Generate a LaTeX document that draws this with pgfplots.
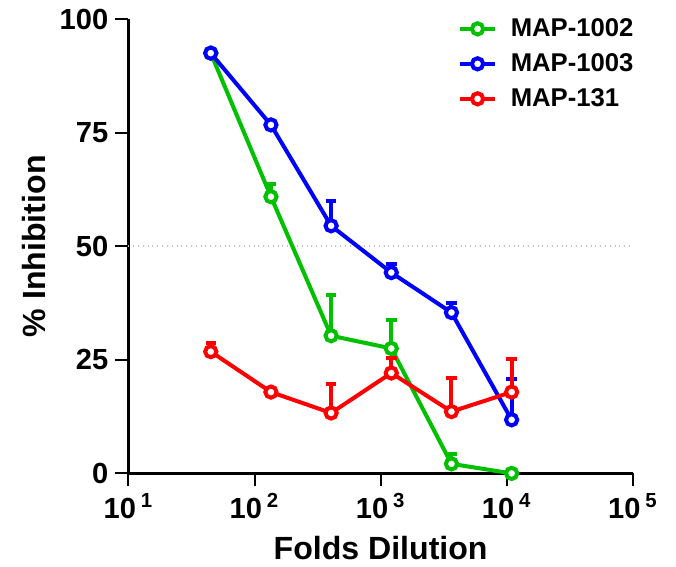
\documentclass[border=0pt]{standalone}
\usepackage{fontspec}
\setmainfont{Liberation Sans}
\usepackage{pgfplots}
\pgfplotsset{compat=1.18}
\definecolor{mapgreen}{RGB}{0,192,0}
\definecolor{mapblue}{RGB}{0,0,255}
\definecolor{mapred}{RGB}{255,0,0}
\pgfplotsset{
	series/.style={line width=2pt, color=#1, mark=*, mark size=2.8pt,
		mark options={solid, fill=white, line width=2pt},
		error bars/.cd, y dir=plus, y explicit,
		error bar style={line width=2pt, color=#1},
		error mark options={rotate=90, mark size=2.6pt, line width=2pt, color=#1}},
}
\begin{document}
\begin{tikzpicture}
\begin{axis}[name=ax,
	scale only axis, width=251.5pt, height=226.5pt,
	xmode=log, xmin=10, xmax=1e5, ymin=0, ymax=100,
	axis lines=left, axis line style={-, line width=1.3pt},
	tick style={line width=1pt, black}, major tick length=6.5pt,
	tick align=outside, tick pos=left,
	xminorticks=false,
	xtick={10,100,1000,10000,100000},
	xticklabels={10\,\textsuperscript{1},10\,\textsuperscript{2},10\,\textsuperscript{3},10\,\textsuperscript{4},10\,\textsuperscript{5}},
	ytick={0,25,50,75,100},
	/pgf/number format/assume math mode=true,
	ticklabel style={font=\bfseries\fontsize{14.5}{16}\selectfont},
	xlabel={Folds Dilution}, ylabel={\% Inhibition},
	label style={font=\bfseries\fontsize{16}{18}\selectfont},
	xlabel style={yshift=-2pt},
	ylabel style={yshift=-6.5pt},
	extra y ticks={50}, extra y tick labels={},
	extra y tick style={grid=major, major grid style={gray!50, dotted, line width=0.8pt}, major tick length=0pt},
	legend style={draw=none, fill=none, at={(1,1.02)}, anchor=north east, xshift=5.5pt,
		font=\bfseries\fontsize{12.8}{14}\selectfont, row sep=3pt},
	legend cell align=left,
	clip=false,
]
\addplot+[series=mapgreen] table[x=x, y=y, y error=e] {
x y e
45 92.5 0
135 60.9 2.9
405 30.3 9.0
1215 27.5 6.2
3645 2.1 2.1
10935 0 0
};
\addlegendentry{\hspace*{5pt}MAP-1002}
\addplot+[series=mapblue] table[x=x, y=y, y error=e] {
x y e
45 92.5 0
135 76.7 0
405 54.5 5.4
1215 44.2 1.9
3645 35.4 2.1
10935 11.8 8.9
};
\addlegendentry{\hspace*{5pt}MAP-1003}
\addplot+[series=mapred] table[x=x, y=y, y error=e] {
x y e
45 26.8 1.9
135 17.9 0
405 13.3 6.3
1215 22.1 3.3
3645 13.6 7.4
10935 17.9 7.3
};
\addlegendentry{\hspace*{5pt}MAP-131}
\end{axis}
\path ([xshift=-64pt,yshift=-45pt]ax.south west) rectangle ([xshift=21.5pt,yshift=9.5pt]ax.north east);
\end{tikzpicture}
\end{document}
